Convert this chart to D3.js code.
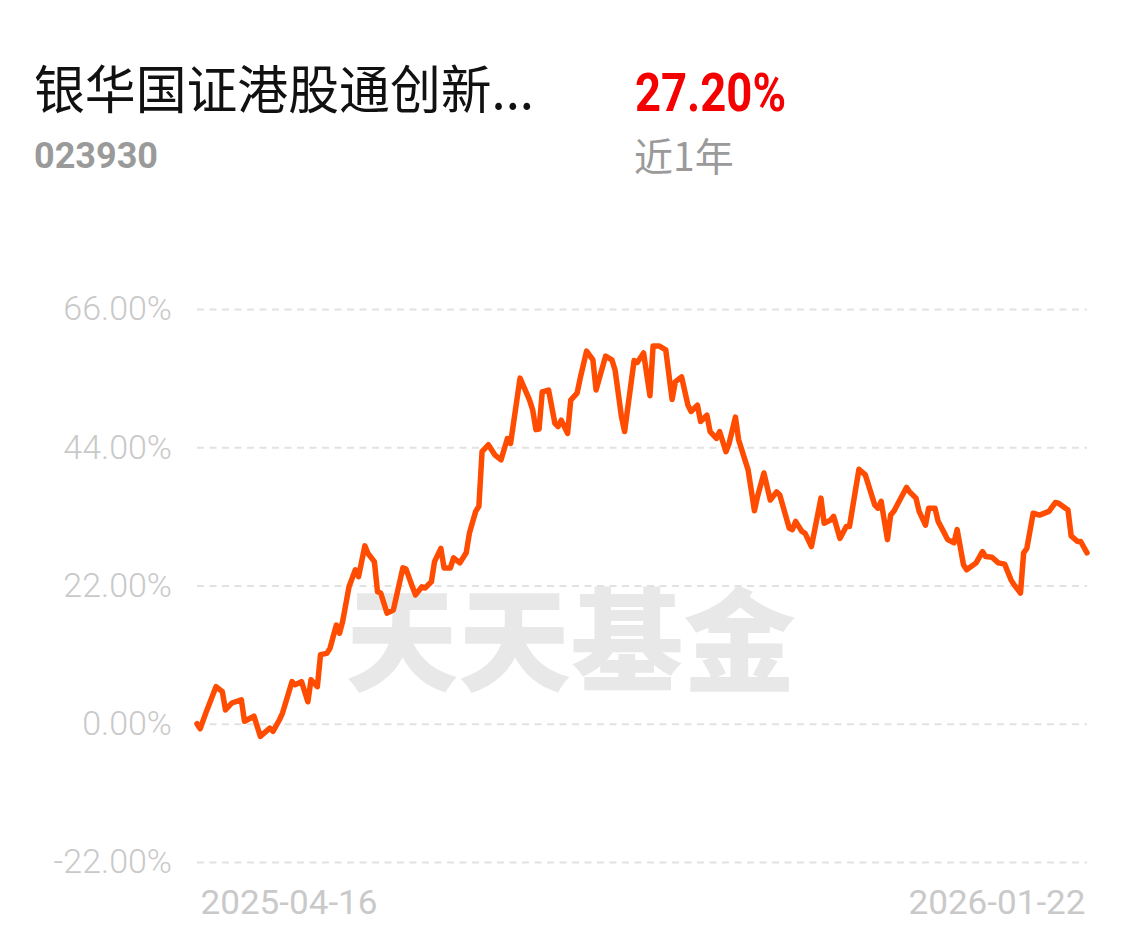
<!DOCTYPE html>
<html>
<head>
<meta charset="utf-8">
<script src="https://cdn.jsdelivr.net/npm/d3@7"></script>
<style>
  body { margin: 0; background: #fff; }
  svg { display: block; }
</style>
</head>
<body>
<div id="chart"></div>
<script>
// fund info
var fundName = "银华国证港股通创新...";
var fundCode = "023930";
var periodReturn = "27.20%";
var periodLabel = "近1年";
var watermark = "天天基金";

var startDate = "2025-04-16";
var endDate = "2026-01-22";
var yTicks = [66, 44, 22, 0, -22];

// calendar days since start date, and cumulative return (%)
var dayOffsets = [0, 1, 3, 6, 8, 9, 11, 14, 15, 18, 20, 23, 24, 26, 27, 30, 31, 33, 35, 36, 38, 39, 41, 42, 44, 45, 46, 48, 50, 51, 53, 54, 56, 57, 58, 60, 62, 65, 66, 68, 69, 71, 72, 74, 75, 77, 78, 80, 81, 83, 85, 86, 88, 89, 90, 92, 94, 96, 98, 99, 102, 105, 106, 107, 108, 109, 111, 113, 114, 115, 117, 118, 120, 121, 123, 125, 126, 129, 131, 132, 134, 135, 138, 139, 141, 143, 144, 146, 148, 150, 151, 153, 155, 156, 158, 159, 161, 162, 164, 165, 167, 168, 170, 171, 173, 174, 176, 177, 179, 181, 183, 184, 187, 188, 189, 191, 192, 194, 197, 198, 200, 201, 203, 205, 206, 209, 211, 214, 215, 216, 218, 219, 220, 224, 225, 227, 228, 230, 231, 233, 234, 236, 237, 239, 240, 242, 243, 246, 248, 249, 251, 253, 255, 257, 258, 260, 261, 262, 264, 266, 268, 269, 271, 272, 275, 276, 278, 279, 281];
var returns = [0.0, -0.8, 2.0, 5.9, 5.1, 2.2, 3.3, 3.8, 0.4, 1.2, -2.0, -0.7, -1.2, 0.6, 1.7, 6.7, 6.2, 6.7, 3.5, 7.0, 5.9, 11.0, 11.2, 12.0, 15.7, 14.4, 16.3, 21.8, 24.5, 23.4, 28.3, 27.1, 25.8, 21.0, 20.8, 17.6, 18.1, 24.8, 24.6, 21.8, 20.5, 21.8, 21.6, 22.6, 25.8, 27.9, 24.8, 24.8, 26.4, 25.6, 27.2, 30.3, 33.8, 34.6, 43.3, 44.4, 42.8, 42.0, 45.4, 44.6, 55.0, 51.5, 49.9, 46.8, 46.9, 52.8, 53.1, 47.8, 47.3, 48.3, 46.2, 51.5, 52.6, 55.0, 59.3, 57.9, 53.1, 58.5, 57.9, 56.3, 48.9, 46.5, 57.8, 57.5, 59.0, 52.2, 60.1, 60.1, 59.5, 51.6, 54.4, 55.2, 50.7, 49.7, 50.7, 48.1, 49.1, 46.5, 45.4, 46.5, 43.3, 44.6, 48.8, 45.2, 42.0, 40.4, 33.9, 36.2, 39.9, 35.6, 36.9, 36.4, 31.1, 30.9, 32.2, 30.6, 30.3, 28.2, 35.9, 31.9, 32.4, 33.0, 29.5, 31.4, 31.4, 40.5, 39.6, 34.8, 34.3, 35.4, 29.3, 33.2, 33.8, 37.6, 36.9, 35.9, 33.8, 31.6, 34.3, 34.3, 32.2, 30.3, 29.3, 28.8, 30.9, 25.3, 24.5, 25.6, 27.4, 26.6, 26.5, 25.6, 25.4, 22.9, 22.1, 20.8, 27.2, 27.9, 33.5, 33.2, 33.6, 33.8, 35.2, 35.1, 34.0, 29.9, 29.0, 29.0, 27.2];

var svgWidth = 1138;
var svgHeight = 949;

var margin = { top: 309, right: 51, bottom: 87, left: 197 };
var chartWidth = svgWidth - margin.left - margin.right;
var chartHeight = 862 - margin.top;

var svg = d3.select("#chart").append("svg").attr("width", svgWidth).attr("height", svgHeight);

var parseDate = d3.timeParse("%Y-%m-%d");
var t0 = parseDate(startDate);
var data = dayOffsets.map((d, i) => ({ date: d3.timeDay.offset(t0, d), value: returns[i] }));

var xScale = d3.scaleTime().domain([t0, parseDate(endDate)]).range([0, chartWidth]);
var yScale = d3.scaleLinear().domain([-22, 66]).range([chartHeight, 0]);

var cjk = "'Noto Sans CJK SC', 'Noto Sans', sans-serif";

// header
svg.append("text")
  .attr("x", 34).attr("y", 109)
  .attr("textLength", 500).attr("lengthAdjust", "spacingAndGlyphs")
  .style("font-family", cjk).style("font-size", "52px").style("fill", "#111")
  .text(fundName);

svg.append("text")
  .attr("x", 34).attr("y", 168)
  .attr("textLength", 124).attr("lengthAdjust", "spacingAndGlyphs")
  .style("font-family", "Roboto, sans-serif").style("font-weight", "bold")
  .style("font-size", "37px").style("fill", "#9a9a9a")
  .text(fundCode);

svg.append("text")
  .attr("x", 635).attr("y", 111)
  .attr("textLength", 151).attr("lengthAdjust", "spacingAndGlyphs")
  .style("font-family", "Roboto, sans-serif").style("font-weight", "bold")
  .style("font-size", "54px").style("fill", "#f50000")
  .text(periodReturn);

svg.append("text")
  .attr("x", 634).attr("y", 171)
  .style("font-family", cjk).style("font-size", "39px").style("fill", "#9a9a9a")
  .text(periodLabel);

var chartGroup = svg.append("g").attr("transform", `translate(${margin.left}, ${margin.top})`);

// watermark
chartGroup.append("text")
  .attr("x", xScale(d3.timeDay.offset(t0, 118)))
  .attr("y", yScale(6.5))
  .attr("text-anchor", "middle")
  .attr("textLength", 450).attr("lengthAdjust", "spacingAndGlyphs")
  .style("font-family", cjk).style("font-weight", "900")
  .style("font-size", "112px").style("fill", "#e8e8e8")
  .text(watermark);

// grid
var leftAxis = d3.axisLeft(yScale)
  .tickValues(yTicks)
  .tickSize(-chartWidth)
  .tickPadding(25)
  .tickFormat(d => d.toFixed(2) + "%");

var yAxisGroup = chartGroup.append("g").attr("id", "left-axis").call(leftAxis);
yAxisGroup.select(".domain").remove();
yAxisGroup.selectAll(".tick line")
  .attr("stroke", "#e2e2e2").attr("stroke-width", 2).attr("stroke-dasharray", "7,5.5");
yAxisGroup.selectAll(".tick text")
  .style("font-family", "Roboto, sans-serif").style("font-weight", "300")
  .style("font-size", "34px").style("fill", "#c9c9c9");

// x labels
var bottomAxis = d3.axisBottom(xScale)
  .tickValues([t0, parseDate(endDate)])
  .tickSize(0)
  .tickPadding(29)
  .tickFormat(d3.timeFormat("%Y-%m-%d"));

var xAxisGroup = chartGroup.append("g").attr("id", "bottom-axis")
  .attr("transform", `translate(0, ${chartHeight})`).call(bottomAxis);
xAxisGroup.select(".domain").remove();
xAxisGroup.selectAll(".tick text")
  .style("font-family", "Roboto, sans-serif").style("font-size", "33px").style("fill", "#c9c9c9")
  .attr("textLength", 177).attr("lengthAdjust", "spacingAndGlyphs")
  .attr("text-anchor", (d, i) => i === 0 ? "start" : "end")
  .attr("dx", (d, i) => i === 0 ? 3 : -2);

// line
var line = d3.line().x(d => xScale(d.date)).y(d => yScale(d.value));

chartGroup.append("path")
  .datum(data)
  .attr("fill", "none")
  .attr("stroke", "#ff4c00")
  .attr("stroke-width", 5.5)
  .attr("stroke-linejoin", "round")
  .attr("stroke-linecap", "round")
  .attr("d", line);
</script>
</body>
</html>
